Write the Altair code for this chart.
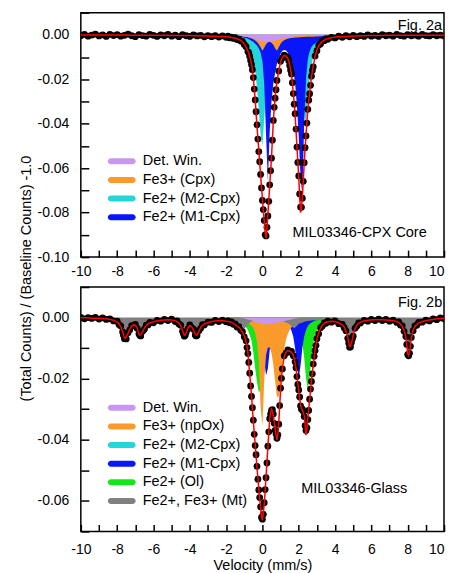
import altair as alt
import pandas as pd

FONT = "Liberation Sans"
W, H = 364, 245

# ---------------- Panel a (Fig. 2a) ----------------
VEL_A = [-10.0, -9.8, -9.6, -9.4, -9.2, -9.0, -8.8, -8.6, -8.4, -8.2, -8.0, -7.8, -7.6, -7.4, -7.2, -7.0,
         -6.8, -6.6, -6.4, -6.2, -6.0, -5.8, -5.6, -5.4, -5.2, -5.0, -4.8, -4.6, -4.4, -4.2, -4.0, -3.8,
         -3.6, -3.4, -3.2, -3.0, -2.8, -2.6, -2.4, -2.2,
         -2.0, -1.9, -1.8, -1.7, -1.6, -1.5, -1.4, -1.3, -1.2, -1.1, -1.0, -0.9, -0.8, -0.7, -0.6, -0.5,
         -0.4, -0.3, -0.2, -0.1, 0.0, 0.1, 0.2, 0.3, 0.4, 0.5, 0.6, 0.7, 0.8, 0.9, 1.0, 1.1, 1.2, 1.3,
         1.4, 1.5, 1.6, 1.7, 1.8, 1.9, 2.0, 2.1, 2.2, 2.3, 2.4, 2.5, 2.6, 2.7, 2.8, 2.9, 3.0, 3.1, 3.2,
         3.3, 3.4, 3.5,
         3.6, 3.8, 4.0, 4.2, 4.4, 4.6, 4.8, 5.0, 5.2, 5.4, 5.6, 5.8, 6.0, 6.2, 6.4, 6.6, 6.8, 7.0, 7.2,
         7.4, 7.6, 7.8, 8.0, 8.2, 8.4, 8.6, 8.8, 9.0, 9.2, 9.4, 9.6, 9.8, 10.0]
FIT_A = [-0.0001] * 14 + [-0.0002] * 11 + [-0.0003] * 6 + [-0.0004] * 3 + [-0.0005] * 2 + [-0.0006] * 2 + [-0.0007] * 2 + \
        [-0.0008, -0.0009, -0.0010, -0.0012, -0.0013, -0.0015, -0.0018, -0.0021, -0.0025, -0.0031, -0.0040,
         -0.0055, -0.0072, -0.0098, -0.0130, -0.0195, -0.0290, -0.0410, -0.0520, -0.0630, -0.0740, -0.0840,
         -0.0915, -0.0810, -0.0680, -0.0550, -0.0390, -0.0280, -0.0210, -0.0160, -0.0122, -0.0102, -0.0093,
         -0.0095, -0.0106, -0.0135, -0.0180, -0.0260, -0.0360, -0.0500, -0.0640, -0.0800, -0.0730, -0.0580,
         -0.0450, -0.0340, -0.0260, -0.0190, -0.0140, -0.0098, -0.0068, -0.0050, -0.0038, -0.0030, -0.0024,
         -0.0020] + \
        [-0.0017, -0.0013, -0.0010, -0.0009, -0.0008, -0.0007, -0.0006, -0.0005, -0.0005, -0.0004, -0.0004,
         -0.0003, -0.0003, -0.0003, -0.0003, -0.0003, -0.0002, -0.0002] + [-0.0002] * 15
DOTS_A = [-0.0004, 0.0002, -0.0006, -0.0001, 0.0003, -0.0005, 0.0000, -0.0007, 0.0002, -0.0003, 0.0001,
          -0.0006, -0.0002, 0.0003, -0.0004, -0.0008, 0.0001, -0.0003, -0.0006, 0.0002, -0.0002, -0.0007,
          0.0000, -0.0004, 0.0002, -0.0006, -0.0001, -0.0008, 0.0001, -0.0004, -0.0007, 0.0000, -0.0005,
          -0.0002, -0.0009, -0.0003, -0.0008, -0.0004, -0.0010, -0.0005,
          -0.0011, -0.0006, -0.0013, -0.0010, -0.0016, -0.0012, -0.0021, -0.0019, -0.0028, -0.0029, -0.0043,
          -0.0053, -0.0075, -0.0096, -0.0134, -0.0192, -0.0293, -0.0405, -0.0525, -0.0628, -0.0745, -0.0835,
          -0.0905, -0.0815, -0.0675, -0.0555, -0.0385, -0.0285, -0.0205, -0.0163, -0.0119, -0.0104, -0.0091,
          -0.0097, -0.0103, -0.0138, -0.0176, -0.0264, -0.0355, -0.0505, -0.0635, -0.0775, -0.0735, -0.0575,
          -0.0455, -0.0335, -0.0265, -0.0186, -0.0144, -0.0095, -0.0071, -0.0047, -0.0041, -0.0027, -0.0026,
          -0.0018,
          -0.0020, -0.0011, -0.0014, -0.0006, -0.0011, -0.0004, -0.0009, -0.0002, -0.0008, -0.0003, -0.0007,
          0.0000, -0.0006, -0.0002, -0.0007, 0.0001, -0.0004, -0.0001, -0.0006, 0.0002, -0.0003, -0.0006,
          0.0001, -0.0004, -0.0001, -0.0006, 0.0002, -0.0003, -0.0005, 0.0001, -0.0004, -0.0001, -0.0005]
# extra channels read in the two steep absorption lines
XVEL_A = [-0.75, -0.65, -0.55, -0.45, -0.35, -0.25, -0.15, -0.05, 0.05, 0.15, 0.25, 0.35, 0.45, 0.55, 0.65,
          0.75, 1.45, 1.55, 1.65, 1.75, 1.85, 1.95, 2.05, 2.15, 2.25, 2.35, 2.45, 2.55, 2.65, 2.75]
XFIT_A = [-0.0084, -0.0112, -0.0160, -0.0240, -0.0350, -0.0465, -0.0575, -0.0685, -0.0790, -0.0890, -0.0870,
          -0.0745, -0.0615, -0.0470, -0.0330, -0.0243, -0.0119, -0.0155, -0.0218, -0.0308, -0.0428, -0.0570,
          -0.0720, -0.0780, -0.0655, -0.0512, -0.0393, -0.0298, -0.0223, -0.0163]
XDOTS_A = [-0.0081, -0.0115, -0.0157, -0.0244, -0.0346, -0.0469, -0.0571, -0.0689, -0.0786, -0.0900, -0.0866,
           -0.0749, -0.0611, -0.0474, -0.0326, -0.0247, -0.0116, -0.0158, -0.0215, -0.0312, -0.0424, -0.0574,
           -0.0716, -0.0776, -0.0659, -0.0508, -0.0397, -0.0294, -0.0227, -0.0160]

# component velocity grid (both panels)
COMP_VEL = [-2.0, -1.5, -1.2, -1.0, -0.8, -0.6, -0.5, -0.4, -0.3, -0.2, -0.1, 0.0, 0.1, 0.2, 0.3, 0.4,
            0.5, 0.6, 0.7, 0.8, 0.9, 1.0, 1.1, 1.2, 1.3, 1.4, 1.5, 1.6, 1.7, 1.8, 1.9, 2.0, 2.1, 2.2, 2.3,
            2.4, 2.5, 2.6, 2.7, 2.8, 2.9, 3.0, 3.2, 3.5, 4.0]
DETWIN_A = [0.0, -0.0001, -0.0004, -0.0007, -0.0010, -0.0014, -0.0016, -0.0019, -0.0022, -0.0025, -0.0028,
            -0.0030, -0.0032, -0.0033, -0.0033, -0.0031, -0.0029, -0.0027, -0.0025, -0.0023, -0.0021, -0.0019,
            -0.0017, -0.0015, -0.0013, -0.0012, -0.0010, -0.0009, -0.0008, -0.0006, -0.0005, -0.0004, -0.0003,
            -0.0002, -0.0001, 0.0, 0.0, 0.0, 0.0, 0.0, 0.0, 0.0, 0.0, 0.0, 0.0]
FE3_CPX_A = [0.0, -0.0002, -0.0005, -0.0008, -0.0011, -0.0016, -0.0020, -0.0025, -0.0032, -0.0042, -0.0056,
             -0.0072, -0.0058, -0.0042, -0.0033, -0.0031, -0.0035, -0.0045, -0.0060, -0.0072, -0.0056, -0.0040,
             -0.0030, -0.0024, -0.0020, -0.0017, -0.0015, -0.0014, -0.0013, -0.0012, -0.0012, -0.0011, -0.0011,
             -0.0010, -0.0010, -0.0009, -0.0009, -0.0008, -0.0008, -0.0008, -0.0007, -0.0007, -0.0006, -0.0003,
             0.0]
M2_CPX_A = [-0.0004, -0.0010, -0.0018, -0.0028, -0.0045, -0.0080, -0.0110, -0.0160, -0.0240, -0.0340, -0.0450,
            -0.0500, -0.0380, -0.0250, -0.0170, -0.0120, -0.0088, -0.0070, -0.0060, -0.0052, -0.0047, -0.0043,
            -0.0041, -0.0041, -0.0043, -0.0046, -0.0052, -0.0060, -0.0072, -0.0088, -0.0110, -0.0140, -0.0190,
            -0.0260, -0.0350, -0.0400, -0.0290, -0.0200, -0.0140, -0.0095, -0.0068, -0.0050, -0.0030, -0.0015,
            -0.0006]
M1_CPX_A = [-0.0004, -0.0007, -0.0010, -0.0013, -0.0018, -0.0026, -0.0032, -0.0040, -0.0048, -0.0060, -0.0080,
            -0.0120, -0.0220, -0.0450, -0.0660, -0.0440, -0.0300, -0.0220, -0.0170, -0.0130, -0.0105, -0.0085,
            -0.0072, -0.0068, -0.0070, -0.0080, -0.0098, -0.0120, -0.0160, -0.0220, -0.0320, -0.0460, -0.0640,
            -0.0720, -0.0400, -0.0200, -0.0110, -0.0075, -0.0055, -0.0045, -0.0038, -0.0033, -0.0025, -0.0016,
            -0.0008]

# ---------------- Panel b (Fig. 2b) ----------------
VEL_B = [-10.0, -9.8, -9.6, -9.4, -9.2, -9.0, -8.8, -8.6, -8.4, -8.2,
         -8.0, -7.9, -7.8, -7.7, -7.6, -7.5, -7.4, -7.3, -7.2, -7.1, -7.0, -6.9, -6.8, -6.7, -6.6, -6.5,
         -6.4, -6.3, -6.2,
         -6.0, -5.8, -5.6, -5.4, -5.2, -5.0,
         -4.8, -4.7, -4.6, -4.5, -4.4, -4.3, -4.2, -4.1, -4.0, -3.9, -3.8, -3.7, -3.6, -3.5, -3.4, -3.3, -3.2,
         -3.0, -2.8, -2.6, -2.4, -2.2,
         -2.0, -1.9, -1.8, -1.7, -1.6, -1.5, -1.4, -1.3, -1.2, -1.1, -1.0, -0.9, -0.8, -0.7, -0.6, -0.5,
         -0.4, -0.3, -0.2, -0.1, 0.0, 0.1, 0.2, 0.3, 0.4, 0.5, 0.6, 0.7, 0.8, 0.9, 1.0, 1.1, 1.2, 1.3,
         1.4, 1.5, 1.6, 1.7, 1.8, 1.9, 2.0, 2.1, 2.2, 2.3, 2.4, 2.5, 2.6, 2.7, 2.8, 2.9, 3.0, 3.1, 3.2,
         3.3, 3.4, 3.5,
         3.6, 3.8, 4.0, 4.2, 4.4, 4.5, 4.6, 4.7, 4.8, 4.9, 5.0, 5.1, 5.2, 5.3, 5.4, 5.6, 5.8, 6.0, 6.2,
         6.4, 6.6, 6.8, 7.0, 7.2, 7.4, 7.5, 7.6, 7.7, 7.8, 7.9, 8.0, 8.1, 8.2, 8.3, 8.4, 8.5, 8.6, 8.8,
         9.0, 9.2, 9.4, 9.6, 9.8, 10.0]
FIT_B = [-0.0001, -0.0001, -0.0001, -0.0002, -0.0002, -0.0002, -0.0003, -0.0004, -0.0006, -0.0009,
         -0.0014, -0.0020, -0.0030, -0.0045, -0.0066, -0.0064, -0.0052, -0.0037, -0.0028, -0.0024, -0.0025,
         -0.0032, -0.0055, -0.0055, -0.0047, -0.0035, -0.0027, -0.0021, -0.0018,
         -0.0014, -0.0011, -0.0009, -0.0008, -0.0007, -0.0008,
         -0.0010, -0.0013, -0.0018, -0.0027, -0.0042, -0.0058, -0.0050, -0.0034, -0.0026, -0.0030, -0.0040,
         -0.0054, -0.0057, -0.0045, -0.0032, -0.0025, -0.0021,
         -0.0017, -0.0013, -0.0011, -0.0010, -0.0010,
         -0.0012, -0.0013, -0.0014, -0.0016, -0.0019, -0.0023, -0.0028, -0.0032, -0.0038, -0.0048, -0.0060,
         -0.0078, -0.0115, -0.0185, -0.0255, -0.0340, -0.0415, -0.0490, -0.0560, -0.0625, -0.0664, -0.0610,
         -0.0520, -0.0425, -0.0335, -0.0300, -0.0320, -0.0365, -0.0400, -0.0345, -0.0235, -0.0165, -0.0128,
         -0.0113, -0.0108, -0.0110, -0.0114, -0.0122, -0.0148, -0.0190, -0.0240, -0.0285, -0.0303, -0.0320,
         -0.0385, -0.0330, -0.0270, -0.0205, -0.0155, -0.0105, -0.0072, -0.0050, -0.0035, -0.0025, -0.0019,
         -0.0016,
         -0.0014, -0.0012, -0.0013, -0.0017, -0.0024, -0.0030, -0.0045, -0.0065, -0.0095, -0.0085, -0.0058,
         -0.0037, -0.0025, -0.0019, -0.0015, -0.0011, -0.0009, -0.0008, -0.0007, -0.0007, -0.0007, -0.0008,
         -0.0009, -0.0010, -0.0013, -0.0016, -0.0021, -0.0029, -0.0042, -0.0065, -0.0118, -0.0115, -0.0068,
         -0.0040, -0.0029, -0.0022, -0.0018, -0.0013, -0.0010, -0.0008, -0.0006, -0.0004, -0.0003, -0.0002]
DOTS_B = [0.0001, -0.0004, 0.0000, -0.0003, 0.0001, -0.0005, -0.0001, -0.0006, -0.0004, -0.0011,
          -0.0012, -0.0023, -0.0028, -0.0047, -0.0069, -0.0070, -0.0050, -0.0040, -0.0026, -0.0027, -0.0022,
          -0.0035, -0.0053, -0.0060, -0.0045, -0.0038, -0.0025, -0.0024, -0.0016,
          -0.0017, -0.0009, -0.0012, -0.0006, -0.0010, -0.0005,
          -0.0013, -0.0011, -0.0021, -0.0025, -0.0045, -0.0061, -0.0048, -0.0037, -0.0024, -0.0033, -0.0038,
          -0.0057, -0.0059, -0.0043, -0.0035, -0.0023, -0.0024,
          -0.0015, -0.0016, -0.0009, -0.0013, -0.0008,
          -0.0014, -0.0011, -0.0017, -0.0014, -0.0022, -0.0021, -0.0031, -0.0030, -0.0041, -0.0046, -0.0063,
          -0.0076, -0.0118, -0.0182, -0.0258, -0.0336, -0.0419, -0.0487, -0.0564, -0.0620, -0.0660, -0.0606,
          -0.0524, -0.0421, -0.0331, -0.0304, -0.0316, -0.0369, -0.0395, -0.0349, -0.0231, -0.0168, -0.0125,
          -0.0116, -0.0106, -0.0113, -0.0111, -0.0125, -0.0145, -0.0193, -0.0237, -0.0289, -0.0300, -0.0324,
          -0.0370, -0.0334, -0.0267, -0.0209, -0.0152, -0.0108, -0.0069, -0.0053, -0.0033, -0.0028, -0.0017,
          -0.0019,
          -0.0012, -0.0015, -0.0011, -0.0020, -0.0022, -0.0033, -0.0043, -0.0068, -0.0097, -0.0082, -0.0061,
          -0.0035, -0.0028, -0.0017, -0.0018, -0.0009, -0.0012, -0.0006, -0.0010, -0.0005, -0.0010, -0.0006,
          -0.0012, -0.0008, -0.0016, -0.0014, -0.0024, -0.0027, -0.0045, -0.0062, -0.0121, -0.0117, -0.0065,
          -0.0043, -0.0027, -0.0025, -0.0016, -0.0015, -0.0008, -0.0011, -0.0004, -0.0007, -0.0001, -0.0004]
XVEL_B = [-7.65, -7.55, -6.75, -4.35, -4.25, -3.65,
          -0.85, -0.75, -0.65, -0.55, -0.45, -0.35, -0.25, -0.15, -0.05, 0.05, 0.15, 0.25, 0.35, 0.45, 0.55,
          0.65, 0.75, 0.85, 0.95, 1.05, 1.85, 1.95, 2.05, 2.15, 2.25, 2.35, 2.45, 2.55, 2.65, 2.75, 2.85, 2.95,
          4.75, 4.85, 4.95, 7.95, 8.05, 8.15]
XFIT_B = [-0.0056, -0.0067, -0.0057, -0.0051, -0.0056, -0.0057,
          -0.0095, -0.0150, -0.0220, -0.0298, -0.0378, -0.0453, -0.0525, -0.0593, -0.0650, -0.0640, -0.0567,
          -0.0472, -0.0378, -0.0312, -0.0305, -0.0342, -0.0385, -0.0380, -0.0292, -0.0195, -0.0167, -0.0215,
          -0.0264, -0.0296, -0.0310, -0.0350, -0.0365, -0.0300, -0.0238, -0.0180, -0.0130, -0.0088,
          -0.0080, -0.0093, -0.0072, -0.0090, -0.0124, -0.0092]
XDOTS_B = [-0.0058, -0.0069, -0.0059, -0.0053, -0.0058, -0.0060,
           -0.0098, -0.0147, -0.0224, -0.0295, -0.0382, -0.0449, -0.0529, -0.0589, -0.0654, -0.0644, -0.0563,
           -0.0476, -0.0374, -0.0316, -0.0301, -0.0346, -0.0381, -0.0384, -0.0288, -0.0199, -0.0164, -0.0219,
           -0.0260, -0.0300, -0.0307, -0.0354, -0.0361, -0.0304, -0.0234, -0.0184, -0.0127, -0.0091,
           -0.0083, -0.0096, -0.0070, -0.0088, -0.0125, -0.0094]

DETWIN_B = [0.0, 0.0, -0.0001, -0.0003, -0.0006, -0.0010, -0.0012, -0.0014, -0.0016, -0.0018, -0.0020,
            -0.0021, -0.0022, -0.0022, -0.0022, -0.0021, -0.0020, -0.0019, -0.0018, -0.0017, -0.0016, -0.0015,
            -0.0013, -0.0012, -0.0010, -0.0009, -0.0007, -0.0006, -0.0004, -0.0003, -0.0002, -0.0001, 0.0,
            0.0, 0.0, 0.0, 0.0, 0.0, 0.0, 0.0, 0.0, 0.0, 0.0, 0.0, 0.0]
FE3_NPOX_B = [-0.0004, -0.0006, -0.0009, -0.0012, -0.0017, -0.0026, -0.0035, -0.0050, -0.0079, -0.0145,
              -0.0291, -0.0356, -0.0205, -0.0123, -0.0098, -0.0098, -0.0117, -0.0154, -0.0209, -0.0260,
              -0.0258, -0.0204, -0.0145, -0.0101, -0.0072, -0.0053, -0.0041, -0.0032, -0.0026, -0.0021,
              -0.0018, -0.0015, -0.0013, -0.0011, -0.0010, -0.0009, -0.0008, -0.0007, -0.0006, -0.0006,
              -0.0005, -0.0005, -0.0004, -0.0003, -0.0002]
M1_CPX_B = [-0.0002, -0.0003, -0.0004, -0.0006, -0.0008, -0.0012, -0.0015, -0.0019, -0.0026, -0.0037, -0.0055,
            -0.0088, -0.0142, -0.0190, -0.0167, -0.0108, -0.0068, -0.0045, -0.0033, -0.0026, -0.0021, -0.0019,
            -0.0019, -0.0019, -0.0021, -0.0025, -0.0031, -0.0043, -0.0063, -0.0101, -0.0159, -0.0197, -0.0158,
            -0.0099, -0.0062, -0.0041, -0.0028, -0.0021, -0.0016, -0.0013, -0.0010, -0.0009, -0.0006, -0.0004,
            -0.0002]
OL_B = [-0.0005, -0.0009, -0.0016, -0.0024, -0.0040, -0.0075, -0.0115, -0.0165, -0.0210, -0.0245, -0.0235,
        -0.0190, -0.0135, -0.0095, -0.0068, -0.0050, -0.0038, -0.0030, -0.0025, -0.0021, -0.0018, -0.0016,
        -0.0015, -0.0014, -0.0015, -0.0015, -0.0016, -0.0018, -0.0021, -0.0025, -0.0031, -0.0041, -0.0057,
        -0.0085, -0.0131, -0.0197, -0.0237, -0.0197, -0.0131, -0.0084, -0.0056, -0.0040, -0.0023, -0.0012,
        -0.0006]
MT_VEL = [-10.0, -9.6, -9.0, -8.6, -8.2, -8.0, -7.8, -7.7, -7.6, -7.5, -7.4, -7.3, -7.2, -7.1, -7.0, -6.9,
          -6.8, -6.7, -6.6, -6.5, -6.4, -6.2, -6.0, -5.6, -5.2, -4.8, -4.6, -4.5, -4.4, -4.3, -4.2, -4.1,
          -4.0, -3.9, -3.8, -3.7, -3.6, -3.5, -3.4, -3.2, -3.0, -2.6, -2.2, -1.8, -1.5, -1.3, -1.15, -1.0,
          -0.85, -0.7, -0.4, 0.0, 0.4, 0.8, 1.2, 1.5, 1.65, 1.75, 1.85, 2.0, 2.4, 2.8, 3.2, 3.6, 4.0, 4.2,
          4.4, 4.5, 4.6, 4.7, 4.8, 4.9, 5.0, 5.1, 5.2, 5.4, 5.8, 6.2, 6.6, 7.0, 7.3, 7.5, 7.7, 7.8, 7.9,
          8.0, 8.1, 8.2, 8.3, 8.4, 8.6, 9.0, 9.4, 9.8, 10.0]
MT_B = [0.0, -0.0001, -0.0001, -0.0002, -0.0006, -0.0011, -0.0026, -0.0040, -0.0060, -0.0058, -0.0047,
        -0.0033, -0.0024, -0.0020, -0.0021, -0.0028, -0.0050, -0.0050, -0.0042, -0.0031, -0.0023, -0.0014,
        -0.0010, -0.0006, -0.0004, -0.0007, -0.0014, -0.0023, -0.0038, -0.0053, -0.0045, -0.0030, -0.0022,
        -0.0026, -0.0036, -0.0049, -0.0052, -0.0040, -0.0028, -0.0017, -0.0013, -0.0008, -0.0007, -0.0009,
        -0.0014, -0.0020, -0.0028, -0.0036, -0.0028, -0.0016, -0.0010, -0.0009, -0.0010, -0.0011, -0.0014,
        -0.0022, -0.0030, -0.0035, -0.0030, -0.0020, -0.0012, -0.0009, -0.0008, -0.0009, -0.0010, -0.0014,
        -0.0021, -0.0027, -0.0040, -0.0060, -0.0088, -0.0078, -0.0052, -0.0032, -0.0021, -0.0012, -0.0005,
        -0.0003, -0.0003, -0.0005, -0.0008, -0.0012, -0.0025, -0.0037, -0.0058, -0.0110, -0.0107, -0.0062,
        -0.0036, -0.0025, -0.0015, -0.0007, -0.0003, -0.0001, 0.0]

NAMES_A = ["Det. Win.", "Fe3+ (Cpx)", "Fe2+ (M2-Cpx)", "Fe2+ (M1-Cpx)"]
NAMES_B = ["Det. Win.", "Fe3+ (npOx)", "Fe2+ (M2-Cpx)", "Fe2+ (M1-Cpx)", "Fe2+ (Ol)", "Fe2+, Fe3+ (Mt)"]
COLORS_A = ["#c997f2", "#f99a2a", "#22d6da", "#0a16fa"]
COLORS_B = ["#c997f2", "#f99a2a", "#22d6da", "#0a16fa", "#16e616", "#808080"]

X_TICKS = list(range(-10, 11))
X_LABELS = [-10, -8, -6, -4, -2, 0, 2, 4, 6, 8, 10]
Y_TICKS_A = [-0.10, -0.09, -0.08, -0.07, -0.06, -0.05, -0.04, -0.03, -0.02, -0.01, 0.0, 0.01]
Y_LABELS_A = [-0.10, -0.08, -0.06, -0.04, -0.02, 0.0]
Y_TICKS_B = [-0.07, -0.06, -0.05, -0.04, -0.03, -0.02, -0.01, 0.0, 0.01]
Y_LABELS_B = [-0.06, -0.04, -0.02, 0.0]

PILL = "M-1.15,-0.316L1.15,-0.316A0.316,0.316 0 0 1 1.15,0.316L-1.15,0.316A0.316,0.316 0 0 1 -1.15,-0.316Z"
YLAB = "(datum.value < -0.000001 ? '-' : '') + format(abs(datum.value), '.2f')"
XLAB = "(datum.value < 0 ? '-' : '') + format(abs(datum.value), 'd')"


def check(*pairs):
    for a, b, n in pairs:
        if len(a) != len(b):
            raise ValueError(f"{n}: {len(a)} vs {len(b)}")


check((VEL_A, FIT_A, "fitA"), (VEL_A, DOTS_A, "dotsA"), (VEL_B, FIT_B, "fitB"), (VEL_B, DOTS_B, "dotsB"),
      (XVEL_A, XFIT_A, "xfitA"), (XVEL_A, XDOTS_A, "xdotsA"), (XVEL_B, XFIT_B, "xfitB"),
      (XVEL_B, XDOTS_B, "xdotsB"),
      (COMP_VEL, DETWIN_A, "dwA"), (COMP_VEL, FE3_CPX_A, "fe3A"), (COMP_VEL, M2_CPX_A, "m2A"),
      (COMP_VEL, M1_CPX_A, "m1A"), (COMP_VEL, DETWIN_B, "dwB"), (COMP_VEL, FE3_NPOX_B, "fe3B"),
      (COMP_VEL, M1_CPX_B, "m1B"), (COMP_VEL, OL_B, "olB"), (MT_VEL, MT_B, "mtB"))


def panel(series, comps, names, colors, ydom, yticks, ylabels, fig, fig_xy, sample, sample_xy,
          legend_y, xpad, ytitle, xtitle):
    xs = alt.Scale(domain=[-10, 10], nice=False, zero=False)
    ys = alt.Scale(domain=ydom, nice=False, zero=False)
    cs = alt.Scale(domain=names, range=colors)
    leg = alt.Legend(orient="none", legendX=31.5, legendY=legend_y, title=None, symbolType=PILL,
                     symbolSize=361, symbolStrokeWidth=0, symbolOpacity=1, labelFont=FONT,
                     labelFontSize=14.5, labelColor="black", labelOffset=11.5, rowPadding=2.7, padding=0,
                     labelLimit=400)
    layers = []
    for name, cv, cvals in comps:
        df = pd.DataFrame({"v": cv, "y": cvals, "comp": name})
        layers.append(alt.Chart(df).mark_area(opacity=1, interpolate="linear", clip=True).encode(
            x=alt.X("v:Q", scale=xs, axis=None),
            y=alt.Y("y:Q", scale=ys, axis=None, stack=None),
            y2=alt.datum(0),
            color=alt.Color("comp:N", scale=cs, legend=leg)))

    yaxis_kw = dict(orient="left", values=ylabels, ticks=False, tickSize=0, domain=False, grid=False,
                    labelFont=FONT, labelFontSize=14, labelColor="black", labelPadding=12,
                    labelExpr=YLAB, labelOverlap=False)
    if ytitle:
        yaxis_kw.update(title=ytitle, titleX=-54, titleY=266, titleAngle=270, titleBaseline="middle",
                        titleAlign="center", titleFont=FONT, titleFontSize=14.5, titleFontWeight="normal",
                        titleColor="black")
    else:
        yaxis_kw.update(title=None)
    xaxis_kw = dict(orient="bottom", values=X_LABELS, ticks=False, tickSize=0, domain=False, grid=False,
                    labelFont=FONT, labelFontSize=14, labelColor="black", labelPadding=xpad,
                    labelExpr=XLAB, labelFlush=False, labelOverlap=False,
                    labelAlign={"condition": {"test": "datum.value >= 10", "value": "right"},
                                "value": "center"})
    if xtitle:
        xaxis_kw.update(title=xtitle, titleFont=FONT, titleFontSize=14.5, titleFontWeight="normal",
                        titleColor="black", titlePadding=2)
    else:
        xaxis_kw.update(title=None)

    v_all, d_all, f_all = series
    ddf = pd.DataFrame({"v": v_all, "y": d_all}).sort_values("v")
    layers.append(alt.Chart(ddf).mark_circle(size=46, color="black", opacity=1, clip=True).encode(
        x=alt.X("v:Q", scale=xs, axis=alt.Axis(**xaxis_kw)),
        y=alt.Y("y:Q", scale=ys, axis=alt.Axis(**yaxis_kw))))

    fdf = pd.DataFrame({"v": v_all, "y": f_all}).sort_values("v")
    layers.append(alt.Chart(fdf).mark_line(color="#ff0000", strokeWidth=1.5, clip=True).encode(
        x=alt.X("v:Q", scale=xs, axis=alt.Axis(orient="bottom", values=X_TICKS, offset=-7, tickSize=7,
                                               ticks=True, labels=False, domain=False, grid=False,
                                               title=None, tickColor="black", tickWidth=1.5)),
        y=alt.Y("y:Q", scale=ys, axis=alt.Axis(orient="left", values=yticks, offset=-8, tickSize=8,
                                               ticks=True, labels=False, domain=False, grid=False,
                                               title=None, tickColor="black", tickWidth=1.5)),
        order="v:Q"))

    tdf = pd.DataFrame({"v": [fig_xy[0]], "y": [fig_xy[1]], "t": [fig]})
    layers.append(alt.Chart(tdf).mark_text(align="right", baseline="alphabetic", fontSize=14.5, font=FONT,
                                           color="black").encode(
        x=alt.X("v:Q", scale=xs, axis=None), y=alt.Y("y:Q", scale=ys, axis=None), text="t:N"))
    sdf = pd.DataFrame({"v": [sample_xy[0]], "y": [sample_xy[1]], "t": [sample]})
    layers.append(alt.Chart(sdf).mark_text(align="left", baseline="alphabetic", fontSize=14.5, font=FONT,
                                           color="black").encode(
        x=alt.X("v:Q", scale=xs, axis=None), y=alt.Y("y:Q", scale=ys, axis=None), text="t:N"))

    return alt.layer(*layers).resolve_axis(x="independent", y="independent").properties(width=W, height=H)


pa = panel((VEL_A + XVEL_A, DOTS_A + XDOTS_A, FIT_A + XFIT_A),
           [("Fe2+ (M2-Cpx)", COMP_VEL, M2_CPX_A), ("Fe2+ (M1-Cpx)", COMP_VEL, M1_CPX_A),
            ("Fe3+ (Cpx)", COMP_VEL, FE3_CPX_A), ("Det. Win.", COMP_VEL, DETWIN_A)],
           NAMES_A, COLORS_A, [-0.10, 0.01], Y_TICKS_A, Y_LABELS_A,
           "Fig. 2a", (9.89, 0.0024), "MIL03346-CPX Core", (1.66, -0.091), 139.5, 7,
           "(Total Counts) / (Baseline Counts) -1.0", None)

pb = panel((VEL_B + XVEL_B, DOTS_B + XDOTS_B, FIT_B + XFIT_B),
           [("Fe2+ (Ol)", COMP_VEL, OL_B), ("Fe2+ (M1-Cpx)", COMP_VEL, M1_CPX_B),
            ("Fe3+ (npOx)", COMP_VEL, FE3_NPOX_B), ("Fe2+, Fe3+ (Mt)", MT_VEL, MT_B),
            ("Det. Win.", COMP_VEL, DETWIN_B)],
           NAMES_B, COLORS_B, [-0.07, 0.01], Y_TICKS_B, Y_LABELS_B,
           "Fig. 2b", (9.9, 0.0034), "MIL03346-Glass", (2.14, -0.0575), 111.5, 11,
           None, "Velocity (mm/s)")

chart = alt.vconcat(pa, pb, spacing=30, bounds="flush").resolve_scale(
    x="independent", y="independent", color="independent").resolve_legend(color="independent").configure(
    font=FONT).configure_view(stroke="black", strokeWidth=1.5).properties(
    padding={"left": 10, "top": 2, "right": 0, "bottom": 0})

chart.save("out.html", embed_options={"renderer": "svg", "actions": False})
